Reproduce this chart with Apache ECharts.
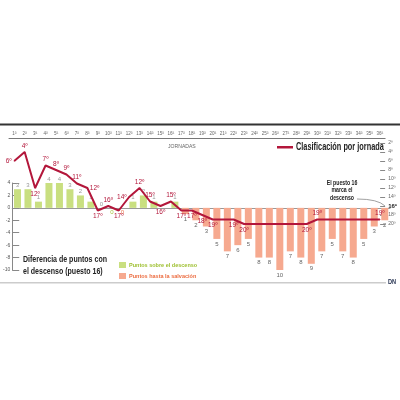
<!DOCTYPE html>
<html>
<head>
<meta charset="utf-8">
<script src="https://cdn.jsdelivr.net/npm/echarts@6/dist/echarts.min.js"></script>
<style>
  html, body { margin: 0; padding: 0; background: #fff; }
  #chart { width: 400px; height: 400px; }
</style>
</head>
<body>
<div id="chart"></div>
<script>
// jornadas de liga
var jornadas = ['1ª','2ª','3ª','4ª','5ª','6ª','7ª','8ª','9ª','10ª','11ª','12ª','13ª','14ª','15ª','16ª','17ª','18ª',
                '19ª','20ª','21ª','22ª','23ª','24ª','25ª','26ª','27ª','28ª','29ª','30ª','31ª','32ª','33ª','34ª','35ª','36ª'];
// diferencia de puntos con el puesto 16 (positivo: sobre el descenso)
var diferencia = [3, 3, 1, 4, 4, 3, 2, 1, 0, 0, 0, 1, 2, 1, 0, 1,
                  -1, -2, -3, -5, -7, -6, -5, -8, -8, -10, -7, -8, -9, -7, -5, -7, -8, -5, -3, -2];
// puesto en la clasificación tras cada jornada
var clasificacion = [6, 4, 12, 7, 8, 9, 11, 12, 17, 16, 17, 14, 12, 15, 16, 15,
                     17, 17, 18, 19, 19, 19, 20, 20, 20, 20, 20, 20, 20, 19, 19, 19, 19, 19, 19, 19];
var puestosEje = [1, 2, 4, 6, 8, 10, 12, 14, 16, 18, 20];
var ultimaVerde = 16; // hasta la jornada 16 el equipo estaba fuera del descenso

// donde va la etiqueta de cada punto de la línea (null = sin etiqueta)
var posLinea = ['left','top','bottom','top','top','top','top','right','bottom','top','bottom','left','top','top','bottom','top',
                'bottom','bottom','bottom','bottom',null,'bottom','bottom',null,null,null,null,null,'bottom','top',
                null,null,null,null,null,'top'];

var FONT = '"Liberation Sans", Roboto, sans-serif';
var VERDE = '#c9df80', ROSA = '#f6a98f', ROJO = '#b3173b';
var ESTRECHO = 0.74; // el diario usa una letra condensada

var chart = echarts.init(document.getElementById('chart'));

var datosVerde = diferencia.map(function (v, i) {
    if (i >= ultimaVerde) return '-';
    var item = { value: v };
    if (i === 9) item.label = { position: 'bottom', color: '#a6c23d' };
    if (i === 10) item.label = { position: 'bottom', color: '#e9764f' };
    if (i === 14) item.label = { show: false };
    return item;
});
var datosRosa = diferencia.map(function (v, i) {
    return i >= ultimaVerde ? v : '-';
});
var datosLinea = clasificacion.map(function (v, i) {
    var p = posLinea[i];
    return { value: v, label: p ? { show: true, position: p } : { show: false } };
});

var option = {
    animation: false,
    textStyle: { fontFamily: FONT },
    grid: [
        { left: 9, right: 10, top: 183, height: 87 },     // barras
        { left: 9, right: 10, top: 138.5, height: 85.5 }  // clasificación
    ],
    legend: {
        data: [
            { name: 'Puntos sobre el descenso', textStyle: { color: '#9dbf2e' } },
            { name: 'Puntos hasta la salvación', textStyle: { color: '#ec6c40' } }
        ],
        orient: 'vertical', left: 114, top: 257,
        icon: 'rect', itemWidth: 7, itemHeight: 6, itemGap: 5,
        selectedMode: false,
        textStyle: { fontFamily: FONT, fontSize: 5.5, fontWeight: 'bold', padding: [0, 0, 0, -2] }
    },
    xAxis: [
        {
            gridIndex: 0, type: 'category', data: jornadas,
            axisLine: { onZero: true, lineStyle: { color: '#999', width: 1 } },
            axisTick: { show: false }, axisLabel: { show: false }
        },
        {
            gridIndex: 1, type: 'category', data: jornadas, position: 'top',
            axisLine: { lineStyle: { color: '#777', width: 1 } },
            axisTick: { inside: true, length: 3, lineStyle: { color: '#777' } },
            axisLabel: { interval: 0, fontSize: 4.5, color: '#666', margin: 2 }
        }
    ],
    yAxis: [
        {
            gridIndex: 0, type: 'value', min: -10, max: 4, interval: 2,
            splitLine: { show: false },
            axisLine: { show: true, lineStyle: { color: '#888' } },
            axisTick: { show: true, inside: true, length: 7, lineStyle: { color: '#888' } },
            axisLabel: { fontSize: 5, color: '#555', margin: 2 }
        },
        {
            gridIndex: 1, type: 'value', position: 'right', inverse: true, min: 1, max: 20,
            splitLine: { show: false },
            axisLine: { show: false },
            axisTick: { show: true, inside: true, length: 5, customValues: puestosEje, lineStyle: { color: '#888' } },
            axisLabel: {
                customValues: puestosEje, fontSize: 5, color: '#666', margin: 3,
                formatter: function (v) { return v === 16 ? '{b|16º}' : v + 'º'; },
                rich: { b: { fontSize: 6, fontWeight: 'bold', color: '#222', fontFamily: FONT } }
            }
        }
    ],
    series: [
        {
            name: 'Puntos sobre el descenso', type: 'bar', xAxisIndex: 0, yAxisIndex: 0,
            data: datosVerde, barWidth: 7, barGap: '-100%',
            itemStyle: { color: VERDE },
            label: {
                show: true, position: 'top', distance: 1, fontSize: 6, color: '#999',
                formatter: function (p) { return Math.abs(p.value); }
            }
        },
        {
            name: 'Puntos hasta la salvación', type: 'bar', xAxisIndex: 0, yAxisIndex: 0,
            data: datosRosa, barWidth: 7, barGap: '-100%',
            itemStyle: { color: ROSA },
            label: {
                show: true, position: 'bottom', distance: 2, fontSize: 6, color: '#666',
                formatter: function (p) { return Math.abs(p.value); }
            }
        },
        {
            name: 'Clasificación por jornada', type: 'line', xAxisIndex: 1, yAxisIndex: 1,
            data: datosLinea, symbol: 'circle', symbolSize: 1,
            itemStyle: { color: ROJO },
            lineStyle: { color: ROJO, width: 2 },
            label: {
                fontSize: 6.5, color: ROJO, distance: 2,
                formatter: function (p) { return p.value + 'º'; }
            }
        }
    ],
    graphic: [
        { type: 'rect', shape: { x: 0, y: 123.5, width: 400, height: 2 }, style: { fill: '#333' } },
        { type: 'rect', shape: { x: 0, y: 282, width: 386, height: 1.5 }, style: { fill: '#ccc' } },
        { type: 'text', x: 168, y: 143, scaleX: 0.85, style: { text: 'JORNADAS', fontSize: 6, fill: '#666', fontFamily: FONT } },
        // leyenda de la línea
        { type: 'rect', shape: { x: 277, y: 146, width: 16, height: 2.5 }, style: { fill: ROJO } },
        { type: 'text', x: 296, y: 141.5, scaleX: 0.7, style: { text: 'Clasificación por jornada', fontSize: 10.5,
            fontWeight: 'bold', fill: '#222', fontFamily: FONT } },
        { type: 'text', x: 23, y: 253, scaleX: ESTRECHO, style: { text: 'Diferencia de puntos con\nel descenso (puesto 16)',
            fontSize: 9.5, lineHeight: 12, fontWeight: 'bold', fill: '#222', fontFamily: FONT } },
        { type: 'text', x: 342, y: 179, scaleX: ESTRECHO, style: { text: 'El puesto 16\nmarca el\ndescenso', fontSize: 7,
            lineHeight: 7.5, fontWeight: 'bold', fill: '#222', align: 'center', fontFamily: FONT } },
        { type: 'bezierCurve', shape: { x1: 357, y1: 199, x2: 385, y2: 206, cpx1: 378, cpy1: 199 },
            style: { stroke: '#777', lineWidth: 0.7, fill: null } },
        { type: 'text', x: 388, y: 279, scaleX: 0.8, style: { text: 'DN', fontSize: 7, fontWeight: 'bold', fill: '#1d2a4a', fontFamily: FONT } }
    ]
};

chart.setOption(option);
</script>
</body>
</html>
